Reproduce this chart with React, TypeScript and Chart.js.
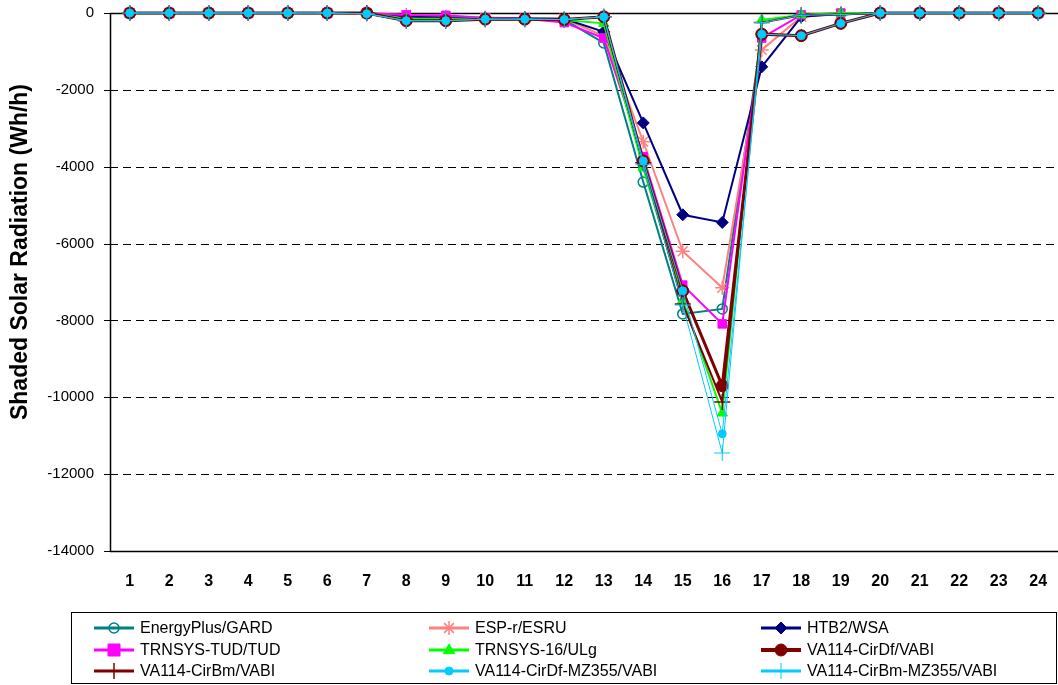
import React, { useEffect, useRef } from "react";
import { Chart, registerables } from "chart.js";

Chart.register(...registerables);

const hours = ["1","2","3","4","5","6","7","8","9","10","11","12","13","14","15","16","17","18","19","20","21","22","23","24"];

const energyPlus = [0,0,0,0,0,0,-20,-180,-180,-160,-160,-170,-780,-4400,-7830,-7700,-550,-590,-270,0,0,0,0,0];
const espr = [0,0,0,0,0,0,-10,-50,-100,-120,-140,-150,-600,-3350,-6200,-7150,-960,-100,-30,0,0,0,0,0];
const htb2 = [0,0,0,0,0,0,0,-100,-120,-130,-140,-150,-490,-2860,-5250,-5450,-1400,-100,-20,0,0,0,0,0];
const trnsysTud = [0,0,0,0,0,0,0,-50,-60,-130,-150,-250,-650,-3740,-7080,-8090,-650,-50,0,0,0,0,0,0];
const trnsys16 = [0,0,0,0,0,0,0,-150,-150,-150,-160,-180,-270,-4030,-7470,-10410,-180,-50,0,0,0,0,0,0];
const cirDf = [0,0,0,0,0,0,0,-200,-200,-160,-160,-170,-100,-3850,-7230,-9700,-550,-590,-270,0,0,0,0,0];
const cirBm = [0,0,0,0,0,0,0,-200,-200,-160,-160,-170,-100,-3900,-7570,-10120,-250,-60,-40,0,0,0,0,0];
const cirDfMz = [0,0,0,0,0,0,-20,-200,-200,-160,-160,-170,-100,-3850,-7230,-10950,-550,-590,-270,0,0,0,0,0];
const cirBmMz = [0,0,0,0,0,0,-20,-200,-200,-160,-160,-170,-100,-3950,-7600,-11450,-250,-60,-40,0,0,0,0,0];

const seriesNames = ["EnergyPlus/GARD","ESP-r/ESRU","HTB2/WSA","TRNSYS-TUD/TUD","TRNSYS-16/ULg","VA114-CirDf/VABI","VA114-CirBm/VABI","VA114-CirDf-MZ355/VABI","VA114-CirBm-MZ355/VABI"];
const seriesData = [energyPlus, espr, htb2, trnsysTud, trnsys16, cirDf, cirBm, cirDfMz, cirBmMz];

const yTicks = [0,-2000,-4000,-6000,-8000,-10000,-12000,-14000];

type Style = { color: string; fill: string; point: string; radius: number; width: number; pw: number };
const styles: Style[] = [
  { color: "#008080", fill: "rgba(0,0,0,0)", point: "circle", radius: 5, width: 2, pw: 1.5 },
  { color: "#FF8080", fill: "#FF8080", point: "star", radius: 7, width: 2, pw: 1.5 },
  { color: "#000080", fill: "#000080", point: "rectRot", radius: 6, width: 2, pw: 1 },
  { color: "#FF00FF", fill: "#FF00FF", point: "rect", radius: 6, width: 2, pw: 1 },
  { color: "#00FF00", fill: "#00FF00", point: "triangle", radius: 6, width: 2, pw: 1 },
  { color: "#800000", fill: "#800000", point: "circle", radius: 6, width: 3, pw: 1 },
  { color: "#800000", fill: "#800000", point: "cross", radius: 8, width: 2, pw: 1.5 },
  { color: "#00CCFF", fill: "#00CCFF", point: "circle", radius: 4, width: 1, pw: 1 },
  { color: "#00CCFF", fill: "#00CCFF", point: "cross", radius: 8, width: 1, pw: 1 },
];

function drawMarker(ctx: CanvasRenderingContext2D, s: Style, x: number, y: number) {
  const r = s.radius;
  ctx.save();
  ctx.strokeStyle = s.color;
  ctx.fillStyle = s.fill;
  ctx.lineWidth = s.pw;
  ctx.beginPath();
  switch (s.point) {
    case "circle":
      ctx.arc(x, y, r, 0, Math.PI * 2);
      ctx.fill();
      ctx.stroke();
      break;
    case "rect":
      ctx.rect(x - r, y - r, 2 * r, 2 * r);
      ctx.fill();
      ctx.stroke();
      break;
    case "rectRot":
      ctx.moveTo(x, y - r);
      ctx.lineTo(x + r, y);
      ctx.lineTo(x, y + r);
      ctx.lineTo(x - r, y);
      ctx.closePath();
      ctx.fill();
      ctx.stroke();
      break;
    case "triangle":
      ctx.moveTo(x, y - r);
      ctx.lineTo(x + r * 0.95, y + r * 0.6);
      ctx.lineTo(x - r * 0.95, y + r * 0.6);
      ctx.closePath();
      ctx.fill();
      ctx.stroke();
      break;
    case "cross":
      ctx.moveTo(x - r, y);
      ctx.lineTo(x + r, y);
      ctx.moveTo(x, y - r);
      ctx.lineTo(x, y + r);
      ctx.stroke();
      break;
    case "star":
      ctx.moveTo(x - r, y);
      ctx.lineTo(x + r, y);
      ctx.moveTo(x, y - r);
      ctx.lineTo(x, y + r);
      ctx.moveTo(x - r * 0.7, y - r * 0.7);
      ctx.lineTo(x + r * 0.7, y + r * 0.7);
      ctx.moveTo(x - r * 0.7, y + r * 0.7);
      ctx.lineTo(x + r * 0.7, y - r * 0.7);
      ctx.stroke();
      break;
  }
  ctx.restore();
}

const decorPlugin = {
  id: "decor",
  beforeDatasetsDraw(chart: any) {
    const ctx: CanvasRenderingContext2D = chart.ctx;
    const { left, right } = chart.chartArea;
    const y = chart.scales.y;
    ctx.save();
    yTicks.forEach((v) => {
      const py = Math.round(y.getPixelForValue(v)) + 0.5;
      ctx.beginPath();
      if (v === 0 || v === -14000) {
        ctx.setLineDash([]);
        ctx.lineWidth = 1.5;
      } else {
        ctx.setLineDash([8, 5]);
        ctx.lineWidth = 1;
      }
      ctx.strokeStyle = "#000";
      ctx.moveTo(left, py);
      ctx.lineTo(right, py);
      ctx.stroke();
      ctx.setLineDash([]);
      ctx.lineWidth = 1;
      ctx.beginPath();
      ctx.moveTo(left - 6, py);
      ctx.lineTo(left, py);
      ctx.stroke();
    });
    ctx.setLineDash([]);
    ctx.lineWidth = 1.5;
    ctx.beginPath();
    ctx.moveTo(left + 0.5, y.getPixelForValue(0));
    ctx.lineTo(left + 0.5, y.getPixelForValue(-14000));
    ctx.stroke();
    ctx.restore();
  },
  afterDraw(chart: any) {
    const ctx: CanvasRenderingContext2D = chart.ctx;
    ctx.save();
    ctx.translate(21, 252);
    ctx.rotate(-Math.PI / 2);
    ctx.fillStyle = "#000";
    ctx.font = "bold 23px 'Liberation Sans', Arial, sans-serif";
    ctx.textAlign = "center";
    ctx.textBaseline = "middle";
    ctx.fillText("Shaded Solar Radiation (Wh/h)", 0, 0);
    ctx.restore();

    ctx.save();
    ctx.strokeStyle = "#000";
    ctx.lineWidth = 1;
    ctx.strokeRect(71.5, 612.5, 985, 71);
    const colMarker = [114, 449, 781];
    const rowY = [628, 650, 671];
    ctx.font = "16px 'Liberation Sans', Arial, sans-serif";
    ctx.textBaseline = "middle";
    ctx.textAlign = "left";
    seriesNames.forEach((name, i) => {
      const s = styles[i];
      const cx = colMarker[i % 3];
      const cy = rowY[Math.floor(i / 3)];
      ctx.beginPath();
      ctx.strokeStyle = s.color;
      ctx.lineWidth = Math.max(s.width, 2) + 1;
      ctx.moveTo(cx - 20, cy);
      ctx.lineTo(cx + 20, cy);
      ctx.stroke();
      drawMarker(ctx, s, cx, cy);
      ctx.fillStyle = "#000";
      ctx.fillText(name, cx + 26, cy + 1);
    });
    ctx.restore();
  },
};

export default function App() {
  const ref = useRef<HTMLCanvasElement | null>(null);
  useEffect(() => {
    if (!ref.current) return;
    const datasets = seriesNames.map((name, i) => {
      const s = styles[i];
      return {
        label: name,
        data: seriesData[i],
        borderColor: s.color,
        backgroundColor: s.fill,
        borderWidth: s.width,
        pointStyle: s.point,
        pointRadius: s.radius,
        pointBorderColor: s.color,
        pointBackgroundColor: s.fill,
        pointBorderWidth: s.pw,
        tension: 0,
        fill: false,
        clip: false,
        order: 9 - i,
      };
    });
    const chart = new Chart(ref.current, {
      type: "line",
      data: { labels: hours, datasets },
      options: {
        animation: false,
        responsive: false,
        maintainAspectRatio: false,
        layout: { autoPadding: false, padding: { top: 13, right: 0, left: 0, bottom: 0 } },
        plugins: { legend: { display: false }, tooltip: { enabled: false } },
        scales: {
          x: {
            type: "category",
            offset: true,
            grid: { display: false },
            border: { display: false },
            ticks: {
              color: "#000",
              padding: 13,
              maxRotation: 0,
              autoSkip: false,
              font: { family: "'Liberation Sans', Arial, sans-serif", size: 16, weight: "bold" },
            },
            afterFit: (scale: any) => {
              scale.height = 134;
              scale.paddingRight = 0;
              scale.paddingLeft = 0;
            },
          },
          y: {
            min: -14000,
            max: 0,
            grid: { display: false },
            border: { display: false },
            ticks: {
              stepSize: 2000,
              color: "#000",
              padding: 8,
              callback: (v: any) => String(v),
              font: { family: "'Liberation Sans', Arial, sans-serif", size: 15 },
            },
            afterFit: (scale: any) => {
              scale.width = 110;
              scale.paddingTop = 0;
              scale.paddingBottom = 0;
            },
          },
        },
      } as any,
      plugins: [decorPlugin],
    });
    return () => chart.destroy();
  }, []);
  return (
    <div style={{ position: "fixed", left: 0, top: 0, width: 1058, height: 685, background: "#fff" }}>
      <canvas ref={ref} width={1058} height={685} style={{ width: 1058, height: 685 }} />
    </div>
  );
}
